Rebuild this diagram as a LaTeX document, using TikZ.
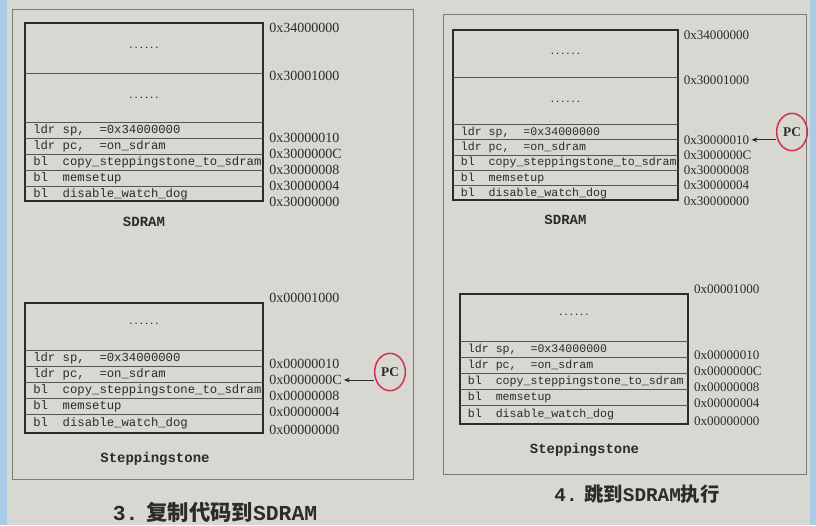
\documentclass[tikz,border=0pt]{standalone}
\usepackage{fontspec}
\setmainfont{Liberation Serif}
\setmonofont{Liberation Mono}
\newfontfamily\cjk{Noto Sans CJK SC}
\usetikzlibrary{arrows.meta,shapes.geometric}
\definecolor{paper}{HTML}{D8D7D2}
\definecolor{ink}{HTML}{2B2B2B}
\definecolor{framec}{HTML}{7A7A7A}
\definecolor{pcred}{HTML}{D0304E}
\definecolor{edgeblue}{HTML}{A9CBE6}
\newcommand\setmemfonts[2]{\def\codefont{\fontsize{#1}{#1}\selectfont\ttfamily}\def\addrfont{\fontsize{#2}{#2}\selectfont\rmfamily}}
\setmemfonts{9.2}{10.5}
\tikzset{
 boxline/.style={draw=ink, line width=0.9pt},
 divline/.style={draw=ink!80, line width=0.5pt},
 code/.style={font=\codefont, text=ink, anchor=west, inner sep=0pt},
 addr/.style={font=\addrfont, text=ink, anchor=west, inner sep=0pt},
 dots/.style={font=\fontsize{6.5}{6.5}\selectfont\ttfamily\bfseries, text=ink, inner sep=0pt},
 memname/.style={font=\fontsize{10.5}{10.5}\selectfont\ttfamily\bfseries, text=ink},
 pcmark/.style={ellipse, draw=pcred, line width=1.1pt, minimum width=23pt, minimum height=28pt, inner sep=0pt, font=\fontsize{10}{10}\selectfont\bfseries, text=ink},
 pcarrow/.style={draw=ink, line width=0.6pt, -{Stealth[length=4.5pt,width=3.5pt]}, shorten >=1.5pt},
 panelframe/.style={draw=framec, line width=0.6pt},
 caption/.style={text=ink},
}
% SDRAM block: name, x, y, xscale, yscale
\newcommand\sdramblock[5]{%
\begin{scope}[shift={(#2,#3)}, xscale=#4, yscale=#5]
 \draw[boxline] (0,0) rectangle (238,178);
 \foreach \yy in {50,99,115,131,147,163} {\draw[divline] (0,\yy) -- (238,\yy);}
 \node[dots] (#1d1) at (119,25) {......};
 \node[dots] (#1d2) at (119,75) {......};
 \node[code] (#1c1) at (8,107) {ldr sp,\ \ =0x34000000};
 \node[code] (#1c2) at (8,123) {ldr pc,\ \ =on\_sdram};
 \node[code] (#1c3) at (8,139) {bl\ \ copy\_steppingstone\_to\_sdram};
 \node[code] (#1c4) at (8,155) {bl\ \ memsetup};
 \node[code] (#1c5) at (8,171) {bl\ \ disable\_watch\_dog};
 \node[addr] (#1a1) at (244,5) {0x34000000};
 \node[addr] (#1a2) at (244,53) {0x30001000};
 \node[addr] (#1a3) at (244,115) {0x30000010};
 \node[addr] (#1a4) at (244,131) {0x3000000C};
 \node[addr] (#1a5) at (244,147) {0x30000008};
 \node[addr] (#1a6) at (244,163) {0x30000004};
 \node[addr] (#1a7) at (244,179) {0x30000000};
 \node[memname] (#1n) at (119,199) {SDRAM};
\end{scope}}
% Steppingstone block
\newcommand\stoneblock[5]{%
\begin{scope}[shift={(#2,#3)}, xscale=#4, yscale=#5]
 \draw[boxline] (0,0) rectangle (238,130);
 \foreach \yy in {47,63,79,95,111} {\draw[divline] (0,\yy) -- (238,\yy);}
 \node[dots] (#1d1) at (119,21) {......};
 \node[code] (#1c1) at (8,55) {ldr sp,\ \ =0x34000000};
 \node[code] (#1c2) at (8,71) {ldr pc,\ \ =on\_sdram};
 \node[code] (#1c3) at (8,87) {bl\ \ copy\_steppingstone\_to\_sdram};
 \node[code] (#1c4) at (8,103) {bl\ \ memsetup};
 \node[code] (#1c5) at (8,120.5) {bl\ \ disable\_watch\_dog};
 \node[addr] (#1a1) at (244,-5) {0x00001000};
 \node[addr] (#1a3) at (244,61) {0x00000010};
 \node[addr] (#1a4) at (244,77) {0x0000000C};
 \node[addr] (#1a5) at (244,93) {0x00000008};
 \node[addr] (#1a6) at (244,109) {0x00000004};
 \node[addr] (#1a7) at (244,127) {0x00000000};
 \node[memname] (#1n) at (130,156) {Steppingstone};
\end{scope}}
\begin{document}
\begin{tikzpicture}[x=0.75pt,y=-0.75pt]
\useasboundingbox (0,0) rectangle (816,525);
\fill[paper] (0,0) rectangle (816,525);
\fill[edgeblue] (0,0) rectangle (7,525);
\fill[edgeblue] (810,0) rectangle (816,525);
\draw[panelframe] (12,9) rectangle (413,479);
\draw[panelframe] (443,14) rectangle (806,474);
% left panel
\setmemfonts{9.2}{10.5}
\sdramblock{ls}{25}{23}{1}{1}
\stoneblock{lt}{25}{303}{1}{1}
\node[pcmark] (pcL) at (390,372) {PC};
\draw[pcarrow] (pcL.west |- lta4) -- (lta4.east);
\node[caption, font=\fontsize{16}{16}\selectfont] (cap3) at (215,512) {{\ttfamily\bfseries 3.}\hspace{6pt}{\cjk\bfseries 复制代码到}{\ttfamily\bfseries SDRAM}};
% right panel
\setmemfonts{8.7}{9.8}
\sdramblock{rs}{453}{30}{0.945}{0.955}
\stoneblock{rt}{460}{294}{0.958}{1}
\node[pcmark] (pcR) at (792,132) {PC};
\draw[pcarrow] (pcR.west |- rsa3) -- (rsa3.east);
\node[caption, font=\fontsize{14.5}{14.5}\selectfont] (cap4) at (637,494) {{\ttfamily\bfseries 4.}\hspace{5pt}{\cjk\bfseries 跳到}{\ttfamily\bfseries SDRAM}{\cjk\bfseries 执行}};
\end{tikzpicture}
\end{document}
